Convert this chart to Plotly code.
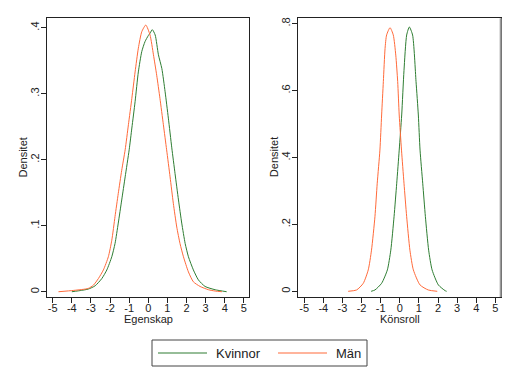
import plotly.graph_objects as go

# Left panel: Egenskap
ege_kv_x = [-4.0, -3.5, -3.14, -2.78, -2.43, -2.17, -1.91, -1.74, -1.57, -1.39, -1.21, -1.0, -0.86, -0.69,
            -0.52, -0.34, -0.17, 0.0, 0.1, 0.21, 0.36, 0.53, 0.71, 0.88, 1.05, 1.23, 1.40, 1.58, 1.75, 1.93,
            2.10, 2.36, 2.62, 2.97, 3.5, 4.1]
ege_kv_y = [0.0, 0.002, 0.004, 0.009, 0.020, 0.033, 0.053, 0.073, 0.104, 0.139, 0.174, 0.215, 0.248, 0.288,
            0.333, 0.364, 0.379, 0.388, 0.392, 0.397, 0.389, 0.359, 0.338, 0.303, 0.263, 0.218, 0.179, 0.139,
            0.104, 0.073, 0.053, 0.033, 0.018, 0.008, 0.003, 0.0]
ege_man_x = [-4.7, -3.9, -3.14, -2.87, -2.61, -2.35, -2.09, -1.91, -1.74, -1.57, -1.39, -1.21, -1.04, -0.86,
             -0.69, -0.52, -0.34, -0.13, 0.09, 0.27, 0.44, 0.61, 0.79, 0.96, 1.14, 1.31, 1.49, 1.66, 1.84,
             2.10, 2.36, 2.71, 3.15, 3.5, 3.85]
ege_man_y = [0.0, 0.002, 0.005, 0.010, 0.020, 0.033, 0.053, 0.078, 0.114, 0.149, 0.184, 0.215, 0.253, 0.293,
             0.333, 0.369, 0.394, 0.404, 0.389, 0.359, 0.328, 0.293, 0.253, 0.215, 0.174, 0.134, 0.098,
             0.073, 0.053, 0.030, 0.015, 0.008, 0.003, 0.001, 0.0]

# Right panel: Könsroll
kon_kv_x = [-1.50, -1.30, -0.95, -0.65, -0.47, -0.30, -0.16, -0.03, 0.10, 0.22, 0.36, 0.50, 0.67, 0.85,
            0.97, 1.06, 1.20, 1.34, 1.51, 1.69, 2.02, 2.37, 2.45]
kon_kv_y = [0.0, 0.004, 0.024, 0.064, 0.123, 0.223, 0.323, 0.422, 0.527, 0.660, 0.766, 0.790, 0.766, 0.627,
            0.527, 0.422, 0.323, 0.223, 0.123, 0.064, 0.019, 0.002, 0.0]
kon_man_x = [-2.70, -2.26, -1.91, -1.65, -1.48, -1.30, -1.18, -1.04, -0.95, -0.86, -0.77, -0.69, -0.51,
             -0.34, -0.21, -0.11, -0.03, 0.09, 0.22, 0.36, 0.53, 0.71, 1.06, 1.49, 1.96]
kon_man_y = [0.0, 0.004, 0.024, 0.064, 0.123, 0.223, 0.323, 0.422, 0.527, 0.627, 0.726, 0.766, 0.788, 0.766,
             0.706, 0.627, 0.527, 0.422, 0.323, 0.223, 0.123, 0.064, 0.019, 0.004, 0.0]

series_names = ["Kvinnor", "Män"]
x_titles = ["Egenskap", "Könsroll"]
y_title = "Densitet"
x_ticks = [-5, -4, -3, -2, -1, 0, 1, 2, 3, 4, 5]
x_ticktext = ["-5", "-4", "-3", "-2", "-1", "0", "1", "2", "3", "4", "5"]
y1_ticks = [0, 0.1, 0.2, 0.3, 0.4]
y1_ticktext = ["0", ".1", ".2", ".3", ".4"]
y2_ticks = [0, 0.2, 0.4, 0.6, 0.8]
y2_ticktext = ["0", ".2", ".4", ".6", ".8"]

GREEN = "#2e7d32"
ORANGE = "#ff6a3a"
COLORS = [GREEN, ORANGE]
FONT = "Liberation Sans, Arial, sans-serif"
TXT = "#222"

fig = go.Figure()
line_kw = dict(width=1, shape="spline", smoothing=0.6)
fig.add_trace(go.Scatter(x=ege_kv_x, y=ege_kv_y, mode="lines", name=series_names[0],
                         line=dict(color=GREEN, **line_kw), xaxis="x", yaxis="y"))
fig.add_trace(go.Scatter(x=ege_man_x, y=ege_man_y, mode="lines", name=series_names[1],
                         line=dict(color=ORANGE, **line_kw), xaxis="x", yaxis="y"))
fig.add_trace(go.Scatter(x=kon_kv_x, y=kon_kv_y, mode="lines", name=series_names[0],
                         line=dict(color=GREEN, **line_kw), xaxis="x2", yaxis="y2"))
fig.add_trace(go.Scatter(x=kon_man_x, y=kon_man_y, mode="lines", name=series_names[1],
                         line=dict(color=ORANGE, **line_kw), xaxis="x2", yaxis="y2"))

W, H = 520, 378
def fx(px):
    return px / W
def fy(py):
    return 1 - py / H

xcommon = dict(tickmode="array", tickvals=x_ticks, ticktext=x_ticktext, ticks="outside", ticklen=5,
               tickwidth=1, tickcolor=TXT, showgrid=False, zeroline=False, showline=True,
               linecolor=TXT, linewidth=1, mirror=True, tickfont=dict(size=11, color=TXT),
               ticklabelstandoff=-4)
ycommon = dict(tickmode="array", ticks="outside", ticklen=5, tickwidth=1, tickcolor=TXT,
               showgrid=False, zeroline=False, showline=True, linecolor=TXT, linewidth=1, mirror=True,
               tickangle=-90, tickfont=dict(size=11, color=TXT), ticklabelstandoff=-2)

P1 = (47, 249, 18, 297)      # left, right, top, bottom (px)
P2 = (298.3, 500.7, 18.3, 297)

fig.update_layout(
    width=W, height=H, margin=dict(l=0, r=0, t=0, b=0),
    paper_bgcolor="white", plot_bgcolor="white",
    font=dict(family=FONT, size=11, color=TXT),
    showlegend=False,
    xaxis=dict(xcommon, domain=[fx(P1[0]), fx(P1[1])], range=[-5.3, 5.27], anchor="y"),
    yaxis=dict(ycommon, domain=[fy(P1[3]), fy(P1[2])], range=[-0.008, 0.4147], anchor="x",
               tickvals=y1_ticks, ticktext=y1_ticktext),
    xaxis2=dict(xcommon, domain=[fx(P2[0]), fx(P2[1])], range=[-5.31, 5.28], anchor="y2"),
    yaxis2=dict(ycommon, domain=[fy(P2[3]), fy(P2[2])], range=[-0.017, 0.816], anchor="x2",
                tickvals=y2_ticks, ticktext=y2_ticktext),
)

# axis titles
for P, xt, ytx in [(P1, x_titles[0], 22), (P2, x_titles[1], 273.5)]:
    fig.add_annotation(xref="paper", yref="paper", x=fx((P[0] + P[1]) / 2), y=fy(318.5), text=xt,
                       showarrow=False, xanchor="center", yanchor="middle", font=dict(size=11, color=TXT))
    fig.add_annotation(xref="paper", yref="paper", x=fx(ytx), y=fy((P[2] + P[3]) / 2), text=y_title,
                       textangle=-90, showarrow=False, xanchor="center", yanchor="middle",
                       font=dict(size=11, color=TXT))

# right edge of right panel drawn in grey like the reference
fig.add_shape(type="line", xref="paper", yref="paper", x0=fx(500.7), x1=fx(500.7), y0=fy(297), y1=fy(18.3),
              line=dict(color="#9a9a9a", width=2))

# legend box (drawn manually to match the reference's proportions)
fig.add_shape(type="rect", xref="paper", yref="paper", x0=fx(152), x1=fx(367), y0=fy(366), y1=fy(340),
              line=dict(color="#444", width=1), fillcolor="white")
leg_line_x = [(158, 207), (278, 327)]
leg_text_x = [215, 335]
for i, name in enumerate(series_names):
    a, b = leg_line_x[i]
    fig.add_shape(type="line", xref="paper", yref="paper", x0=fx(a), x1=fx(b), y0=fy(353), y1=fy(353),
                  line=dict(color=COLORS[i], width=1.2))
    fig.add_annotation(xref="paper", yref="paper", x=fx(leg_text_x[i]), y=fy(353), text=name,
                       showarrow=False, xanchor="left", yanchor="middle",
                       font=dict(size=13, color=TXT), xshift=-1)

fig.write_html("out.html", config={"displayModeBar": False},
               post_script="document.body.style.margin='0';document.body.style.padding='0';")
